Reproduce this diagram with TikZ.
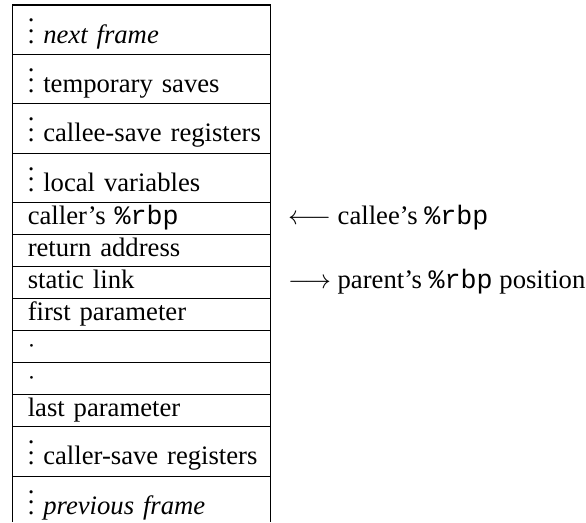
\documentclass[tikz,border=0pt]{standalone}
\usepackage{fontspec}
\setmainfont{Liberation Serif}
\setmonofont{Liberation Mono}
\usetikzlibrary{positioning}
\begin{document}
\begin{tikzpicture}[x=0.375pt, y=-0.375pt,
    slot/.style={draw, line width=0.4pt, outer sep=0pt, text width=96.9pt, inner xsep=0pt, inner ysep=0pt, align=left, text height=8pt, text depth=4pt, execute at begin node=\hspace*{5.8pt}},
    tallslot/.style={slot, text height=14.25pt, text depth=4.3pt},
    openslot/.style={tallslot, draw=none, text depth=3pt},
    note/.style={inner sep=0pt}]
    \useasboundingbox (0,0) rectangle (586,522);

    \node [tallslot, anchor=north west] (next) at (12.3,5) {$\vdots$ \textit{next frame}};
    \node [tallslot, below=0pt of next] (temps) {$\vdots$ temporary saves};
    \node [tallslot, below=0pt of temps] (calleesave) {$\vdots$ callee-save registers};
    \node [tallslot, below=0pt of calleesave] (locals) {$\vdots$ local variables};
    \node [slot, below=0pt of locals] (callerbp) {caller's \texttt{\%rbp}};
    \node [slot, below=0pt of callerbp] (retaddr) {return address};
    \node [slot, below=0pt of retaddr] (statlink) {static link};
    \node [slot, below=0pt of statlink] (firstparam) {first parameter};
    \node [slot, below=0pt of firstparam] (dotsa) {$\cdot$};
    \node [slot, below=0pt of dotsa] (dotsb) {$\cdot$};
    \node [slot, below=0pt of dotsb] (lastparam) {last parameter};
    \node [tallslot, below=0pt of lastparam] (callersave) {$\vdots$ caller-save registers};
    \node [openslot, below=0pt of callersave] (prev) {$\vdots$ \textit{previous frame}};
    \draw (prev.north west) -- (prev.south west);
    \draw (prev.north east) -- (prev.south east);

    \node [note, base right=6.3pt of callerbp] (calleebp) {$\longleftarrow$ callee's \texttt{\%rbp}};
    \node [note, base right=6.3pt of statlink] (parentbp) {$\longrightarrow$ parent's \texttt{\%rbp} position};
\end{tikzpicture}
\end{document}
